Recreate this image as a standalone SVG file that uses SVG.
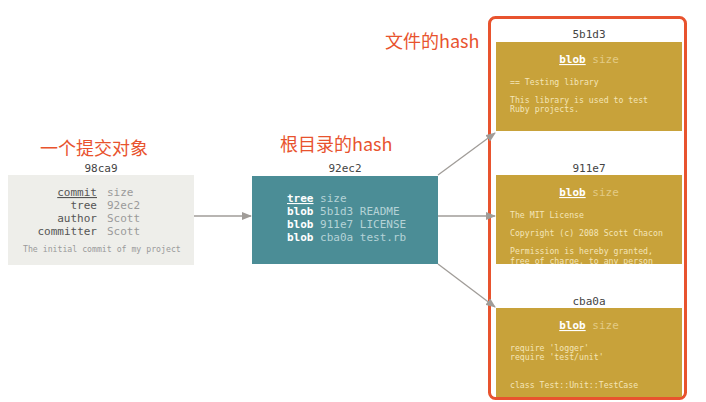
<svg xmlns="http://www.w3.org/2000/svg" width="706" height="402" viewBox="0 0 706 402">
<style>
.mono{font-family:"DejaVu Sans Mono","Liberation Mono",monospace}
.lbl{font-size:11px;fill:#444;text-anchor:middle}
.cn{font-family:"Noto Sans CJK SC","Noto Sans",sans-serif;font-size:18px;fill:#e8532e}
.ck{font-size:11px;fill:#555;text-anchor:end}
.cv{font-size:11px;fill:#9a9a9a}
.tk{font-size:11px;fill:#fff;font-weight:bold}
.tv{fill:#b5d3d7;font-weight:normal}
.bh{font-size:11px;text-anchor:middle}
.bk{fill:#fff;font-weight:bold;text-decoration:underline}
.bv{fill:#e3cb85}
.bc{font-size:8.2px;fill:#f4e5b8}
.u{text-decoration:underline}
.conn{stroke:#a09c98;stroke-width:1.3;fill:none;marker-end:url(#ah)}
</style>
<defs>
<marker id="ah" markerWidth="10" markerHeight="8" refX="9" refY="4" orient="auto" markerUnits="userSpaceOnUse">
<path d="M0,0 L10,4 L0,8 Z" fill="#a09c98"/>
</marker>
<clipPath id="c2"><rect x="496" y="175" width="186" height="89"/></clipPath>
</defs>
<g id="annotations">
<text class="cn" x="40" y="155">一个提交对象</text>
<text class="cn" x="280" y="151">根目录的hash</text>
<text class="cn" x="385" y="48">文件的hash</text>
<rect x="489.5" y="17.5" width="196" height="381" rx="6" fill="none" stroke="#e8532e" stroke-width="3"/>
</g>
<g id="connectors">
<line class="conn" x1="194" y1="216" x2="251" y2="216"/>
<line class="conn" x1="438" y1="175" x2="495" y2="133"/>
<line class="conn" x1="438" y1="216" x2="495" y2="216"/>
<line class="conn" x1="438" y1="264" x2="495" y2="307"/>
</g>
<g id="commit" class="mono">
<text class="lbl" x="101" y="172">98ca9</text>
<rect x="8" y="175" width="186" height="90" fill="#eeeeea"/>
<text class="ck u" x="97" y="196">commit</text>
<text class="cv" x="107" y="196">size</text>
<text class="ck" x="97" y="209">tree</text>
<text class="cv" x="107" y="209">92ec2</text>
<text class="ck" x="97" y="222">author</text>
<text class="cv" x="107" y="222">Scott</text>
<text class="ck" x="97" y="235">committer</text>
<text class="cv" x="107" y="235">Scott</text>
<text x="23" y="252" style="font-size:8.2px;fill:#9a9a9a">The initial commit of my project</text>
</g>
<g id="tree" class="mono">
<text class="lbl" x="345" y="172">92ec2</text>
<rect x="252" y="176" width="186" height="88" fill="#4b8d96"/>
<text class="tk" x="287" y="202"><tspan class="u">tree</tspan><tspan class="tv"> size</tspan></text>
<text class="tk" x="287" y="215">blob<tspan class="tv"> 5b1d3 README</tspan></text>
<text class="tk" x="287" y="228">blob<tspan class="tv"> 911e7 LICENSE</tspan></text>
<text class="tk" x="287" y="241">blob<tspan class="tv"> cba0a test.rb</tspan></text>
</g>
<g id="blob1" class="mono">
<text class="lbl" x="589" y="38">5b1d3</text>
<rect x="496" y="42" width="186" height="89" fill="#c8a23a"/>
<text class="bh" x="589" y="63"><tspan class="bk">blob</tspan><tspan class="bv"> size</tspan></text>
<text class="bc" x="510" y="85">== Testing library</text>
<text class="bc" x="510" y="103">This library is used to test</text>
<text class="bc" x="510" y="112">Ruby projects.</text>
</g>
<g id="blob2" class="mono">
<text class="lbl" x="589" y="172">911e7</text>
<rect x="496" y="175" width="186" height="89" fill="#c8a23a"/>
<text class="bh" x="589" y="196"><tspan class="bk">blob</tspan><tspan class="bv"> size</tspan></text>
<g clip-path="url(#c2)">
<text class="bc" x="510" y="218">The MIT License</text>
<text class="bc" x="510" y="236">Copyright (c) 2008 Scott Chacon</text>
<text class="bc" x="510" y="254">Permission is hereby granted,</text>
<text class="bc" x="510" y="264">free of charge, to any person</text>
</g>
</g>
<g id="blob3" class="mono">
<text class="lbl" x="589" y="305">cba0a</text>
<rect x="496" y="308" width="186" height="89" fill="#c8a23a"/>
<text class="bh" x="589" y="329"><tspan class="bk">blob</tspan><tspan class="bv"> size</tspan></text>
<text class="bc" x="510" y="351">require 'logger'</text>
<text class="bc" x="510" y="360">require 'test/unit'</text>
<text class="bc" x="510" y="388">class Test::Unit::TestCase</text>
</g>
</svg>
